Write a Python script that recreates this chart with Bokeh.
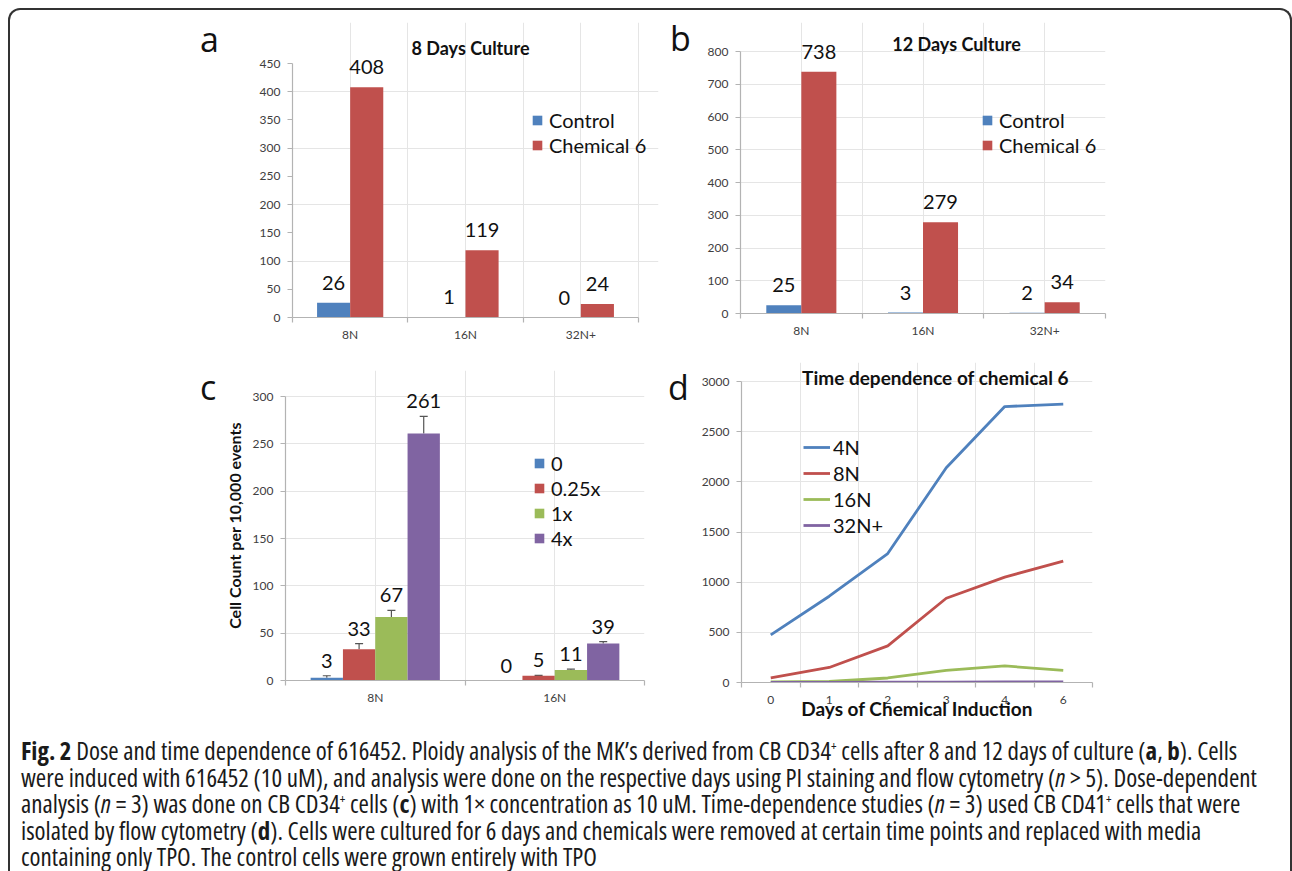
from bokeh.plotting import figure
from bokeh.models import (Range1d, LinearAxis, FixedTicker, SingleIntervalTicker, Legend,
                          LegendItem, Label, Whisker, TeeHead, ColumnDataSource, Div)
from bokeh.layouts import row, column
from bokeh.embed import file_html
from bokeh.resources import INLINE
from bokeh.core.properties import value

# ---------------- data ----------------
ploidy_ab = ["8N", "16N", "32N+"]
a_control = [26, 1, 0]
a_chem6 = [408, 119, 24]
b_control = [25, 3, 2]
b_chem6 = [738, 279, 34]

ploidy_c = ["8N", "16N"]
dose_names = ["0", "0.25x", "1x", "4x"]
c_dose0 = [3, 0]
c_dose025 = [33, 5]
c_dose1 = [67, 11]
c_dose4 = [261, 39]
c_err0 = [2, 0]
c_err025 = [6, 0.5]
c_err1 = [7, 1]
c_err4 = [18, 2]

days = ["0", "1", "2", "3", "4", "6"]
d_4n = [475, 860, 1285, 2140, 2750, 2775]
d_8n = [45, 150, 365, 840, 1050, 1210]
d_16n = [5, 10, 45, 120, 165, 120]
d_32n = [2, 2, 3, 4, 5, 5]

# ---------------- style ----------------
BLUE = "#4F81BD"
RED = "#C0504D"
GREEN = "#9BBB59"
PURPLE = "#8064A2"
AX = "#b3b3b3"
TICK_TXT = "#404040"
FONT = "Lato"
TXT = "#111111"

ROW1_H = 345
ROW2_H = 372


def centers(cats):
    return [i + 0.5 for i in range(len(cats))]


def make_fig(cats, xend, ymax, yend, interval, width, height, mbl, mbr, mbt, mbb,
             xstandoff=4):
    n = len(cats)
    p = figure(x_range=Range1d(0, xend), y_range=Range1d(0, yend),
               width=width, height=height, min_border_left=mbl, min_border_right=mbr,
               min_border_top=mbt, min_border_bottom=mbb, x_axis_location=None,
               y_axis_location=None, toolbar_location=None, tools="",
               output_backend="svg")
    if "frame_align" in p.properties():
        p.frame_align = False
    p.outline_line_color = None
    p.background_fill_color = "white"
    p.border_fill_color = None
    # category labels at centres, tick marks at category boundaries (minor ticks)
    xaxis = LinearAxis(ticker=FixedTicker(ticks=centers(cats), minor_ticks=list(range(n + 1))),
                       bounds=(0, n),
                       major_label_overrides={c: name for c, name in zip(centers(cats), cats)},
                       axis_line_color=AX, axis_line_width=1.2,
                       major_tick_line_color=None, major_tick_out=0, major_tick_in=0,
                       minor_tick_line_color=AX, minor_tick_out=5, minor_tick_in=0,
                       minor_tick_line_width=1.2,
                       major_label_text_font=FONT, major_label_text_font_size="12px",
                       major_label_text_color=TICK_TXT, major_label_standoff=xstandoff)
    p.add_layout(xaxis, "below")
    yaxis = LinearAxis(ticker=SingleIntervalTicker(interval=interval), bounds=(0, ymax),
                       axis_line_color=AX, axis_line_width=1.2, major_tick_line_color=AX,
                       major_tick_line_width=1.2,
                       major_tick_out=5, major_tick_in=0, minor_tick_line_color=None,
                       major_label_text_font=FONT, major_label_text_font_size="12px",
                       major_label_text_color=TICK_TXT, major_label_standoff=7)
    p.add_layout(yaxis, "left")
    return p, xaxis, yaxis


def add_label(p, text, x, y, size, bold=False, align="center", baseline="middle",
              font=FONT):
    p.add_layout(Label(x=x, y=y, x_units="screen", y_units="screen", text=text,
                       text_font=font, text_font_size=size,
                       text_font_style="bold" if bold else "normal",
                       text_align=align, text_baseline=baseline, text_color=TXT))


def letter_div(letter, width, height, pad_left, pad_top):
    html = ('<div style="font-family: \'Open Sans\', sans-serif; font-size: 34px; '
            'line-height: 34px; color: #111; padding-left: %dpx; padding-top: %dpx;">%s</div>'
            % (pad_left, pad_top, letter))
    return Div(text=html, width=width, height=height, margin=0)


def bar_panel(cats, control, chem, xend, ymax, yend, interval, width, mbl, mbr, mbt, mbb,
              title, title_xy, legend_xy, bw):
    p, _, _ = make_fig(cats, xend, ymax, yend, interval, width, ROW1_H, mbl, mbr, mbt, mbb)
    cx = centers(cats)
    src = ColumnDataSource(dict(xc=[c - bw / 2 for c in cx], xe=[c + bw / 2 for c in cx],
                                control=control, chem=chem,
                                control_t=[str(v) for v in control],
                                chem_t=[str(v) for v in chem]))
    r1 = p.vbar(x="xc", top="control", width=bw, source=src, fill_color=BLUE,
                line_color=None)
    r2 = p.vbar(x="xe", top="chem", width=bw, source=src, fill_color=RED, line_color=None)
    for xcol, col in (("xc", "control"), ("xe", "chem")):
        p.text(x=xcol, y=col, text=col + "_t", source=src,
               y_offset=-20, text_align="center", text_baseline="middle",
               text_font=value(FONT), text_font_size=value("20px"), text_color=TXT)
    leg = Legend(items=[LegendItem(label="Control", renderers=[r1]),
                        LegendItem(label="Chemical 6", renderers=[r2])],
                 location=legend_xy, orientation="vertical", glyph_width=12,
                 glyph_height=12, label_standoff=6, label_text_font=FONT,
                 label_text_font_size="20px", label_text_color=TXT, spacing=1,
                 padding=0, margin=0, border_line_color=None, background_fill_alpha=0)
    p.add_layout(leg)
    add_label(p, title, title_xy[0], title_xy[1], "18px", bold=True)
    return p


# panel a: frame page x 292..(axis end 638, frame 658), axis top 63, bottom 317, top 22
pa = bar_panel(ploidy_ab, a_control, a_chem6, 3 * 366 / 346, 450, 450 * 295 / 254, 50,
               438, 70, 2, 12, 38, "8 Days Culture", (178, 270), (239, 160), 0.287)
# panel b: frame page x 740..1105, axis top 51, bottom 313, top 22
pb = bar_panel(ploidy_ab, b_control, b_chem6, 3, 800, 800 * 291 / 262, 100,
               588, 40, 183, 12, 42, "12 Days Culture", (216, 270), (241, 156), 0.288)

# panel c: row 2 starts at page 355; frame top 370, bottom 680
pc, _, yc = make_fig(ploidy_c, 2, 300, 300 * 310 / 284, 50, 445, ROW2_H, 70, 16, 15, 47)
yc.axis_label = "Cell Count per 10,000 events"
yc.axis_label_text_font = FONT
yc.axis_label_text_font_size = "16px"
yc.axis_label_text_font_style = "bold"
yc.axis_label_text_color = TXT
yc.axis_label_standoff = 6
cw = 0.18
c_series = [(c_dose0, c_err0, BLUE), (c_dose025, c_err025, RED),
            (c_dose1, c_err1, GREEN), (c_dose4, c_err4, PURPLE)]
c_items = []
for k, (name, (vals, errs, col)) in enumerate(zip(dose_names, c_series)):
    off = (k - 1.5) * cw
    xs = [c + off for c in centers(ploidy_c)]
    src = ColumnDataSource(dict(x=xs, v=vals, up=[v + e for v, e in zip(vals, errs)],
                                t=[str(v) for v in vals]))
    r = pc.vbar(x="x", top="v", width=cw, source=src, fill_color=col, line_color=None)
    c_items.append(LegendItem(label=name, renderers=[r]))
    keep = [i for i, v in enumerate(vals) if v > 0]
    wsrc = ColumnDataSource(dict(x=[xs[i] for i in keep], v=[vals[i] for i in keep],
                                 up=[vals[i] + errs[i] for i in keep]))
    pc.add_layout(Whisker(base="x", upper="up", lower="v", dimension="height", source=wsrc,
                          line_color="#555555", line_width=1.2, lower_head=None,
                          upper_head=TeeHead(size=8, line_color="#555555", line_width=1.2)))
    pc.text(x="x", y="up", text="t", source=src, y_offset=-15, text_align="center",
            text_baseline="middle", text_font=value(FONT), text_font_size=value("20px"),
            text_color=TXT)
pc.add_layout(Legend(items=c_items, location=(248, 130), glyph_width=12, glyph_height=12,
                     label_standoff=6, label_text_font=FONT, label_text_font_size="20px",
                     label_text_color=TXT, spacing=1, padding=0, margin=0,
                     border_line_color=None, background_fill_alpha=0))

# panel d: frame page x 741..1092, axis top 381, bottom 682, frame top 362
pd_, xd, _ = make_fig(days, 6, 3000, 3000 * 320 / 301, 500, 590, ROW2_H, 43, 196, 7, 45,
                      xstandoff=8)
xd.axis_label = "Days of Chemical Induction"
xd.axis_label_text_font = FONT
xd.axis_label_text_font_size = "19px"
xd.axis_label_text_font_style = "bold"
xd.axis_label_text_color = TXT
xd.axis_label_standoff = -10
d_items = []
for name, vals, col in (("4N", d_4n, BLUE), ("8N", d_8n, RED), ("16N", d_16n, GREEN),
                        ("32N+", d_32n, PURPLE)):
    r = pd_.line(x=centers(days), y=vals, line_color=col, line_width=2.8)
    d_items.append(LegendItem(label=name, renderers=[r]))
pd_.add_layout(Legend(items=d_items, location=(62, 145), glyph_width=27, glyph_height=20,
                      label_standoff=3, label_text_font=FONT, label_text_font_size="20px",
                      label_text_color=TXT, spacing=2, padding=0, margin=0,
                      border_line_color=None, background_fill_alpha=0))
add_label(pd_, "Time dependence of chemical 6", 194, 305, "19px", bold=True)

div_a = letter_div("a", 212, ROW1_H, 190, 12)
div_b = letter_div("b", 40, ROW1_H, 10, 11)
div_c = letter_div("c", 205, ROW2_H, 190, 15)
div_d = letter_div("d", 38, ROW2_H, 8, 15)

SUP = '<sup style="font-size:13px; line-height:0">+</sup>'
caption_html = (
    '<div style="font-family: \'Open Sans\', sans-serif;'
    ' font-stretch: 75%; font-size: 25px; line-height: 26.5px; color: #1a1a1a;'
    ' white-space: nowrap; padding-left: 6px; padding-top: 0px;">'
    '<b>Fig. 2</b> Dose and time dependence of 616452. Ploidy analysis of the MK\u2019s derived from CB CD34' + SUP + ' cells after 8 and 12 days of culture (<b>a</b>, <b>b</b>). Cells<br>'
    'were induced with 616452 (10 uM), and analysis were done on the respective days using PI staining and flow cytometry (<i>n</i> &gt; 5). Dose-dependent<br>'
    'analysis (<i>n</i> = 3) was done on CB CD34' + SUP + ' cells (<b>c</b>) with 1\u00d7 concentration as 10 uM. Time-dependence studies (<i>n</i> = 3) used CB CD41' + SUP + ' cells that were<br>'
    'isolated by flow cytometry (<b>d</b>). Cells were cultured for 6 days and chemicals were removed at certain time points and replaced with media<br>'
    'containing only TPO. The control cells were grown entirely with TPO'
    '</div>'
)
cap = Div(text=caption_html, width=1270, height=142, styles={"padding-top": "5px"})

layout = column(row(div_a, pa, div_b, pb), row(div_c, pc, div_d, pd_), cap,
                styles={"margin-left": "8px", "margin-top": "8px",
                        "border-top": "2px solid #333", "border-left": "2px solid #333",
                        "border-right": "2px solid #333", "border-top-left-radius": "12px",
                        "border-top-right-radius": "12px"})

open("out.html", "w").write(file_html(layout, INLINE))
